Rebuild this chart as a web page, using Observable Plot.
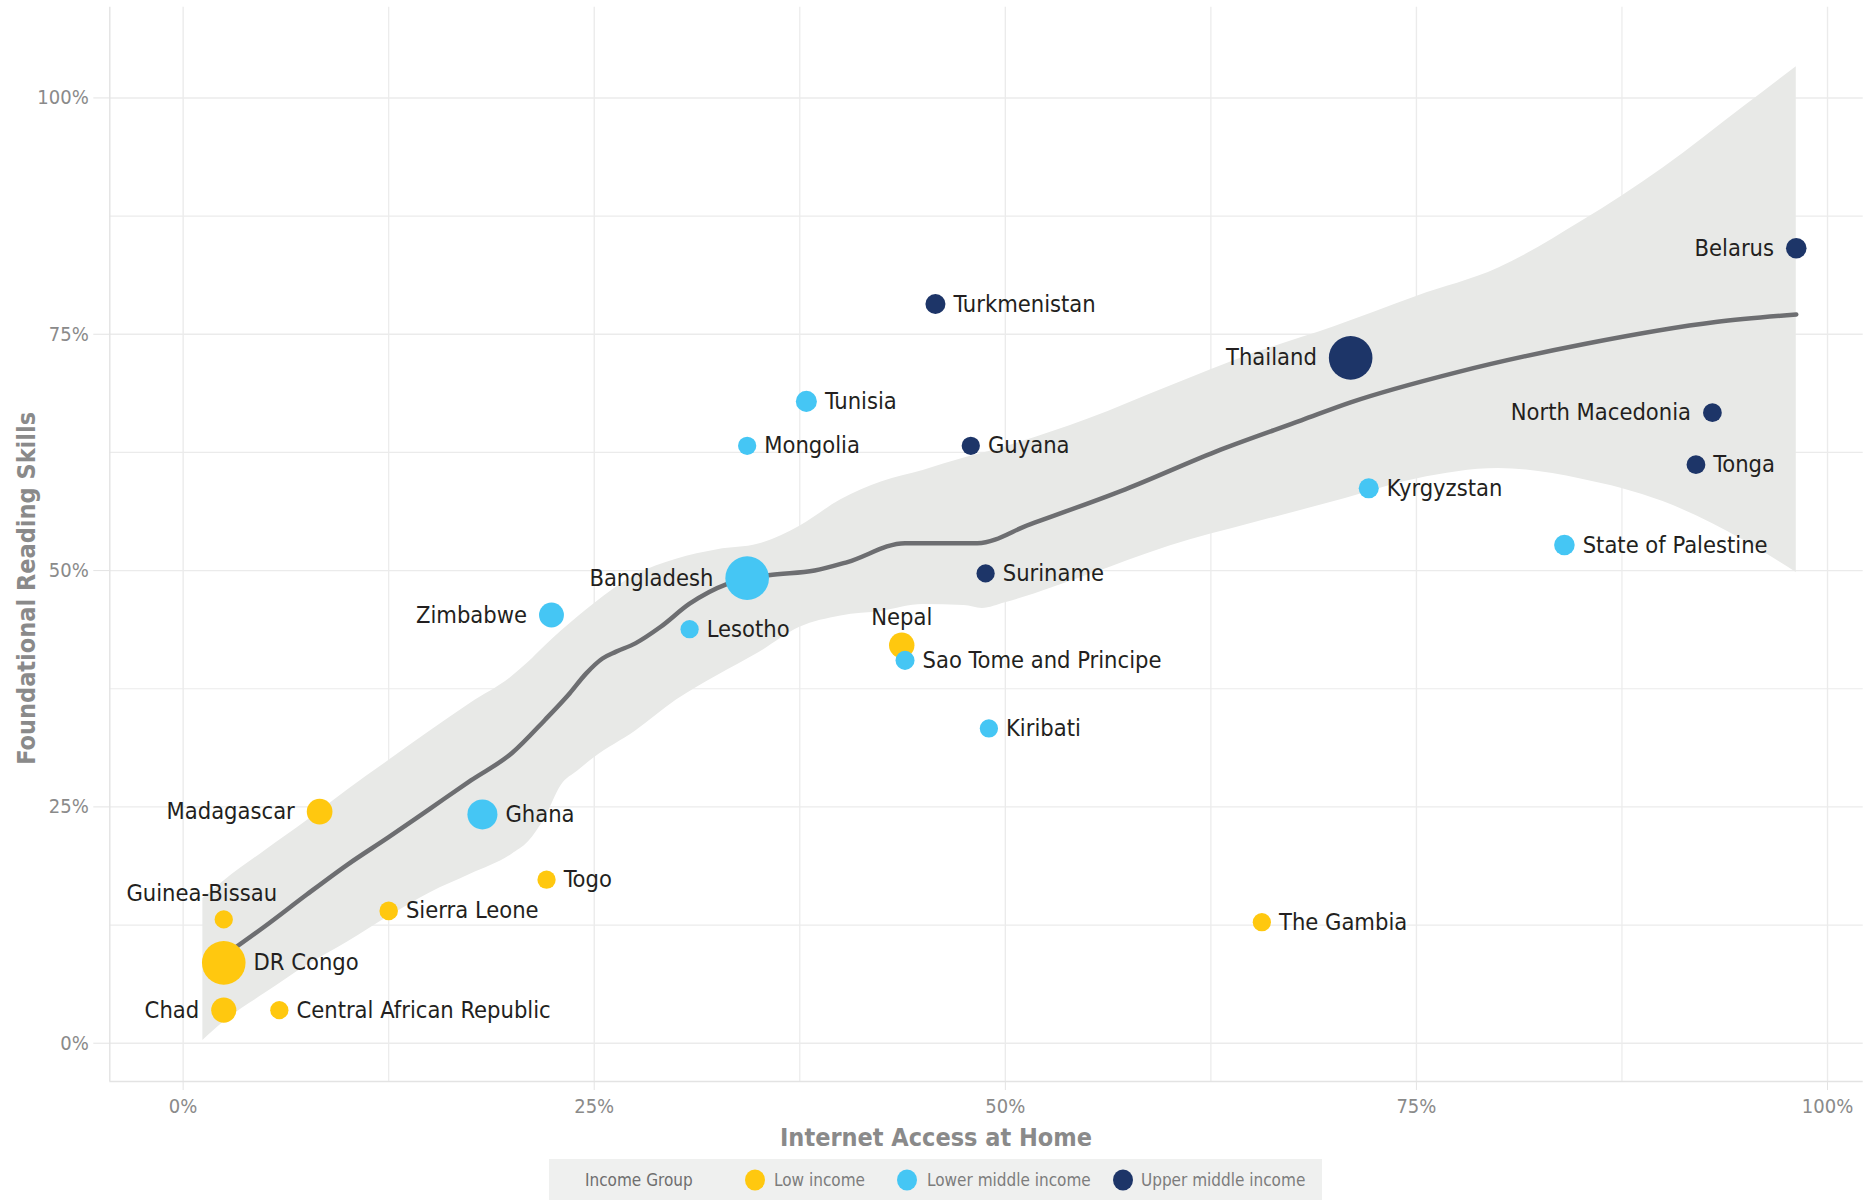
<!DOCTYPE html>
<html>
<head>
<meta charset="utf-8">
<script src="https://cdn.jsdelivr.net/npm/d3@7"></script>
<script src="https://cdn.jsdelivr.net/npm/@observablehq/plot@0.6"></script>
<style>
  html, body { margin: 0; padding: 0; background: #ffffff; }
  #wrap { position: relative; width: 1871px; height: 1200px; overflow: hidden;
    font-family: "Liberation Sans Narrow", "DejaVu Sans Condensed", "Roboto", sans-serif; }
  #chart { position: absolute; left: 0; top: 0; }
  #legend { position: absolute; left: 549px; top: 1159px; width: 773px; height: 41px;
    background: #eff0ef; font-size: 17px; color: #7c7c7c; white-space: nowrap; }
  #legend span { position: absolute; top: 52%; transform: translateY(-50%); }
  #legend .title { color: #6e6e6e; }
  #legend .sw { width: 20px; height: 21px; border-radius: 50%; }
</style>
</head>
<body>
<div id="wrap">
  <div id="chart"></div>
  <div id="legend"></div>
</div>
<script>
// ---------------- data ----------------
const countries = ["Belarus","Turkmenistan","Thailand","Tunisia","Mongolia","Guyana","North Macedonia","Tonga","Kyrgyzstan","State of Palestine","Bangladesh","Suriname","Zimbabwe","Lesotho","Nepal","Sao Tome and Principe","Kiribati","Madagascar","Ghana","Togo","Sierra Leone","The Gambia","Guinea-Bissau","DR Congo","Chad","Central African Republic"];
const internetAccess = [98.1, 45.75, 71.0, 37.9, 34.3, 47.9, 93.0, 92.0, 72.1, 84.0, 34.3, 48.8, 22.4, 30.8, 43.7, 43.9, 49.0, 8.3, 18.2, 22.1, 12.5, 65.6, 2.47, 2.47, 2.47, 5.85];
const readingSkills = [84.1, 78.2, 72.5, 67.9, 63.2, 63.2, 66.7, 61.2, 58.7, 52.7, 49.2, 49.7, 45.3, 43.8, 42.1, 40.5, 33.3, 24.5, 24.2, 17.3, 14.0, 12.8, 13.1, 8.5, 3.5, 3.5];
const incomeGroup = ["Upper middle income","Upper middle income","Upper middle income","Lower middle income","Lower middle income","Upper middle income","Upper middle income","Upper middle income","Lower middle income","Lower middle income","Lower middle income","Upper middle income","Lower middle income","Lower middle income","Low income","Lower middle income","Lower middle income","Low income","Lower middle income","Low income","Low income","Low income","Low income","Low income","Low income","Low income"];
const dotWeight = [10, 8, 100, 12, 1, 1, 3, 3, 8, 10, 100, 1, 27, 1, 29, 4, 1, 30, 47, 1, 2, 1, 1, 100, 28, 1];
const labelSide = ["left","right","left","right","right","right","left","right","right","right","left","right","left","right","above","right","right","left","right","right","right","right","aboveLeft","right","left","right"];

const incomeGroups = ["Low income","Lower middle income","Upper middle income"];
const incomeColors = ["#FFC80F","#45C6F4","#1D3568"];

// smoothed trend (loess) and its confidence band
const smoothX = [2.6, 5, 7.5, 10, 12.5, 15, 17.5, 20, 22, 23.5, 24.5, 25.5, 26.3, 27.5, 29, 30.8, 33.1, 35.6, 38.4, 40.4, 43.9, 48.3, 51.5, 57.3, 63.1, 68, 71, 77.5, 85.3, 93.2, 98.1];
const smoothY = [9.4, 12.4, 15.7, 18.9, 21.8, 24.8, 27.8, 30.7, 34.2, 37.0, 39.1, 40.7, 41.4, 42.3, 44.0, 46.5, 48.6, 49.5, 50.0, 50.9, 52.9, 52.9, 54.9, 58.6, 62.8, 65.9, 67.8, 71.0, 74.0, 76.3, 77.1];
const bandX = [1.2, 2.5, 5, 7.5, 10, 12.5, 15, 17.5, 20, 21, 22, 23, 24, 25, 27.5, 30, 32.5, 35, 37.5, 40, 42.5, 45, 47.5, 48.6, 50, 55, 60, 65, 70, 75, 80, 85, 90, 95, 98.1];
const bandLower = [0.3, 2.3, 5.3, 8.2, 10.7, 13.4, 15.9, 17.9, 20.0, 21.3, 23.8, 27.3, 28.8, 30.2, 33.0, 36.3, 38.9, 41.3, 44.0, 45.2, 45.7, 46.4, 46.3, 46.0, 46.6, 49.5, 52.6, 55.0, 57.3, 59.7, 60.8, 59.7, 57.3, 53.1, 49.8];
const bandUpper = [15.3, 17.2, 20.4, 23.5, 26.8, 29.9, 33.0, 36.0, 38.8, 40.3, 42.0, 43.6, 45.1, 46.5, 49.5, 51.2, 52.2, 52.8, 54.7, 57.5, 59.4, 60.6, 61.9, 62.4, 63.1, 66.0, 69.5, 72.9, 75.8, 79.0, 82.0, 86.9, 92.6, 99.2, 103.3];

const majorTicks = [0, 25, 50, 75, 100];
const minorTicks = [12.5, 37.5, 62.5, 87.5];

// ---------------- layout ----------------
const W = 1871, H = 1155;
const ML = 109.3, MR = 8.3, MT = 6.7, MB = H - 1081;
const xDomain = [-4.46, 102.17];
const yDomain = [-4.05, 109.6];
const FONT = '"Liberation Sans Narrow", "DejaVu Sans Condensed", "Roboto", sans-serif';

const rOpts = {type: "linear", domain: [0, 100], range: [9, 21.8]};
const xs = Plot.scale({x: {domain: xDomain, range: [ML, W - MR]}});
const ys = Plot.scale({y: {domain: yDomain, range: [H - MB, MT]}});
const rs = Plot.scale({r: rOpts});

const points = countries.map((c, i) => ({
  country: c, x: internetAccess[i], y: readingSkills[i], group: incomeGroup[i], w: dotWeight[i], side: labelSide[i]
})).sort((a, b) => b.w - a.w);

const labels = points.map(p => {
  const px = xs.apply(p.x), py = ys.apply(p.y), r = rs.apply(p.w);
  let lx = px, ly = py, anchor = "start";
  if (p.side === "right") { lx = px + r + 8; anchor = "start"; }
  else if (p.side === "left") { lx = px - r - 12; anchor = "end"; }
  else if (p.side === "above") { lx = px; ly = py - r - 15; anchor = "middle"; }
  else if (p.side === "aboveLeft") { lx = px - 22; ly = py - r - 17; anchor = "middle"; }
  return {text: p.country, x: xs.invert(lx), y: ys.invert(ly), anchor};
});

const smooth = smoothX.map((x, i) => ({x, y: smoothY[i]}));
const band = bandX.map((x, i) => ({x, lo: bandLower[i], hi: bandUpper[i]}));

const gridColor = "#ebebeb";
const pct = d => d + "%";

const textMark = (anchor) => Plot.text(labels.filter(d => d.anchor === anchor), {
  x: "x", y: "y", text: "text", textAnchor: anchor, fontSize: 23.5, fill: "#231f20", lineAnchor: "middle"
});

const chart = Plot.plot({
  width: W, height: H,
  marginLeft: ML, marginRight: MR, marginTop: MT, marginBottom: MB,
  style: {fontFamily: FONT, background: "transparent", overflow: "visible"},
  x: {domain: xDomain, range: [ML, W - MR]},
  y: {domain: yDomain, range: [H - MB, MT]},
  r: rOpts,
  color: {domain: incomeGroups, range: incomeColors},
  marks: [
    Plot.ruleX(minorTicks, {stroke: gridColor, strokeWidth: 1.2}),
    Plot.ruleY(minorTicks, {stroke: gridColor, strokeWidth: 1.2}),
    Plot.ruleX(majorTicks, {stroke: gridColor, strokeWidth: 1.4}),
    Plot.ruleY(majorTicks, {stroke: gridColor, strokeWidth: 1.4}),
    Plot.ruleX([xDomain[0]], {stroke: "#e3e3e3", strokeWidth: 1.4}),
    Plot.ruleY([yDomain[0]], {stroke: "#e3e3e3", strokeWidth: 1.4}),
    Plot.axisX({ticks: majorTicks, tickFormat: pct, tickSize: 9, tickPadding: 8, fontSize: 20, stroke: "#e3e3e3", fill: "#8a8a8a", label: null}),
    Plot.axisY({ticks: majorTicks, tickFormat: pct, tickSize: 16, tickPadding: 5, fontSize: 20, stroke: "#e3e3e3", fill: "#8a8a8a", label: null}),
    Plot.areaY(band, {x: "x", y1: "lo", y2: "hi", fill: "#e8e9e7", curve: "monotone-x"}),
    Plot.line(smooth, {x: "x", y: "y", stroke: "#6d6e71", strokeWidth: 4.5, curve: "monotone-x", strokeLinecap: "round"}),
    Plot.dot(points, {x: "x", y: "y", r: "w", fill: "group", stroke: null}),
    textMark("start"),
    textMark("end"),
    textMark("middle"),
    Plot.text(["Internet Access at Home"], {frameAnchor: "bottom", textAnchor: "middle", lineAnchor: "middle", dx: -50.5, dy: 56, fontSize: 25, fontWeight: "bold", fill: "#8a8a8a"}),
    Plot.text(["Foundational Reading Skills"], {frameAnchor: "left", textAnchor: "middle", lineAnchor: "middle", rotate: -90, dx: -83, dy: 44, fontSize: 25, fontWeight: "bold", fill: "#8a8a8a"})
  ]
});
document.getElementById("chart").appendChild(chart);

// legend (HTML, below the SVG)
const legend = document.getElementById("legend");
const legendLeft = 549;
const addSpan = (cls, text, left, color) => {
  const s = document.createElement("span");
  s.className = cls;
  if (text) s.textContent = text;
  if (color) s.style.background = color;
  s.style.left = (left - legendLeft) + "px";
  legend.appendChild(s);
};
addSpan("title", "Income Group", 585);
const swLeft = [745, 897, 1113];
const labLeft = [774, 927, 1141];
incomeGroups.forEach((g, i) => {
  addSpan("sw", "", swLeft[i], incomeColors[i]);
  addSpan("lab", g, labLeft[i]);
});
</script>
</body>
</html>
